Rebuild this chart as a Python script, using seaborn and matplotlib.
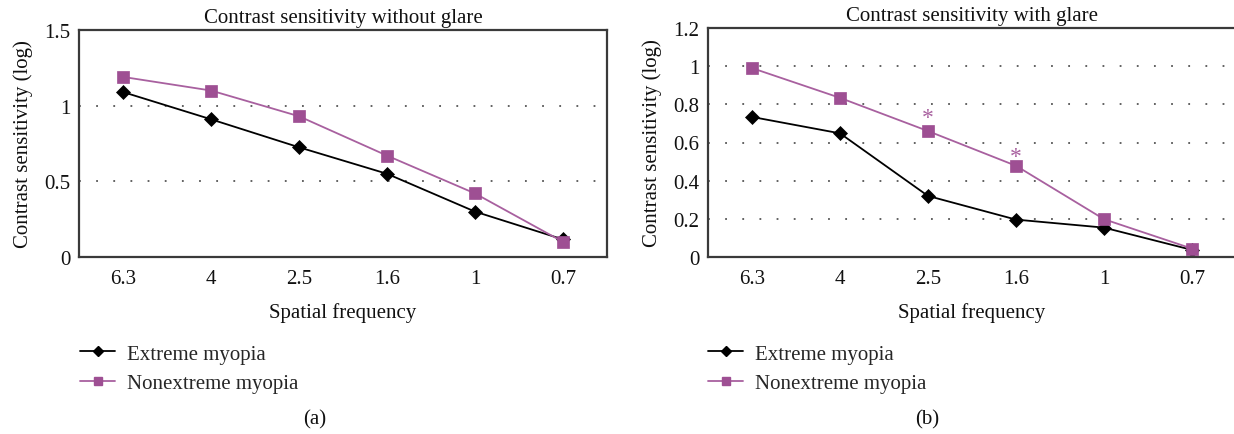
import numpy as np
import pandas as pd
import matplotlib
matplotlib.use("Agg")
import matplotlib.pyplot as plt
import seaborn as sns
from matplotlib.lines import Line2D

freqs = ["6.3", "4", "2.5", "1.6", "1", "0.7"]
a_extreme = [1.09, 0.91, 0.725, 0.55, 0.30, 0.116]
a_nonextreme = [1.19, 1.10, 0.93, 0.67, 0.42, 0.10]
b_extreme = [0.734, 0.648, 0.32, 0.196, 0.154, 0.037]
b_nonextreme = [0.99, 0.834, 0.66, 0.478, 0.198, 0.044]
b_sig_freqs = ["2.5", "1.6"]
b_sig_y = [0.765, 0.56]

series_names = ["Extreme myopia", "Nonextreme myopia"]
titles = ["Contrast sensitivity without glare", "Contrast sensitivity with glare"]
panel_tags = ["(a)", "(b)"]

sns.set_theme(style="white")
plt.rcParams["font.family"] = ["Liberation Serif", "DejaVu Serif"]

BLACK = "#000000"
PURPLE_M = "#9E4F93"
PURPLE_L = "#A8609F"
SPINE = "#3a3a3a"

W, H = 1234, 435
fig = plt.figure(figsize=(W / 100, H / 100), dpi=100)

def px_axes(x0, x1, y0, y1):
    return fig.add_axes([x0 / W, 1 - y1 / H, (x1 - x0) / W, (y1 - y0) / H])

ax_a = px_axes(79, 607, 31, 258)
ax_b = px_axes(708, 1236, 29, 258)

panels = [
    (ax_a, a_extreme, a_nonextreme, 1.5, [0, 0.5, 1, 1.5], ["0", "0.5", "1", "1.5"]),
    (ax_b, b_extreme, b_nonextreme, 1.2, [0, 0.2, 0.4, 0.6, 0.8, 1.0, 1.2],
     ["0", "0.2", "0.4", "0.6", "0.8", "1", "1.2"]),
]

for i, (ax, ext, non, ymax, yt, ytl) in enumerate(panels):
    df = pd.DataFrame({
        "freq": freqs * 2,
        "pos": list(range(len(freqs))) * 2,
        "val": ext + non,
        "group": [series_names[0]] * len(freqs) + [series_names[1]] * len(freqs),
    })
    for g, color, mcol, marker, ms in [
        (series_names[0], BLACK, BLACK, "D", 7),
        (series_names[1], PURPLE_L, PURPLE_M, "s", 8),
    ]:
        sub = df[df["group"] == g]
        sns.lineplot(data=sub, x="pos", y="val", ax=ax, color=color, lw=1.3,
                     marker=marker, markersize=ms, markerfacecolor=mcol,
                     markeredgecolor=mcol, markeredgewidth=0.5, sort=False,
                     legend=False, label=g)
    ax.set_xlim(-0.5, len(freqs) - 0.5)
    ax.set_ylim(0, ymax)
    ax.set_yticks(yt)
    ax.set_yticklabels(ytl)
    ax.set_xticks(range(len(freqs)))
    ax.set_xticklabels(freqs)
    ax.set_xticks(np.arange(0.5, len(freqs) - 0.5, 1.0), minor=True)
    ax.tick_params(axis="x", which="major", length=0, labelsize=15, pad=9, colors="#111")
    ax.tick_params(axis="x", which="minor", length=6, width=1.2, direction="in", color=SPINE)
    ax.tick_params(axis="y", length=0, labelsize=15, pad=6, colors="#111")
    for t in yt[1:-1]:
        ax.axhline(t, color="#555555", lw=1.3, ls=(0, (1, 8.5)), zorder=0)
    for s in ax.spines.values():
        s.set_color(SPINE)
        s.set_linewidth(1.6)
        s.set_visible(True)
    ax.set_xlabel("Spatial frequency", fontsize=15, labelpad=10, color="#111")
    ax.set_ylabel("Contrast sensitivity (log)", fontsize=15, labelpad=8, color="#111")
    ax.set_title(titles[i], fontsize=15, pad=6, color="#111")
    ax.grid(False)

for f, y in zip(b_sig_freqs, b_sig_y):
    ax_b.annotate("*", (freqs.index(f), y), xytext=(0, -6), textcoords="offset pixels",
                  color=PURPLE_L, fontsize=17, ha="center", va="center")

handles = [
    Line2D([], [], color=BLACK, lw=1.3, marker="D", markersize=5.5,
           markerfacecolor=BLACK, markeredgecolor=BLACK),
    Line2D([], [], color=PURPLE_L, lw=1.3, marker="s", markersize=5.5,
           markerfacecolor=PURPLE_M, markeredgecolor=PURPLE_M),
]
for x0 in [80, 708]:
    fig.legend(handles, series_names, loc="upper left",
               bbox_to_anchor=(x0 / W, 1 - 345 / H), frameon=False,
               fontsize=15, handlelength=1.7, handletextpad=0.55,
               labelspacing=0.48, borderpad=0, borderaxespad=0)

fig.text(315 / W, 1 - 420 / H, panel_tags[0], ha="center", va="center", fontsize=15, color="#111")
fig.text(927 / W, 1 - 420 / H, panel_tags[1], ha="center", va="center", fontsize=15, color="#111")

fig.savefig("out.png", dpi=100)
